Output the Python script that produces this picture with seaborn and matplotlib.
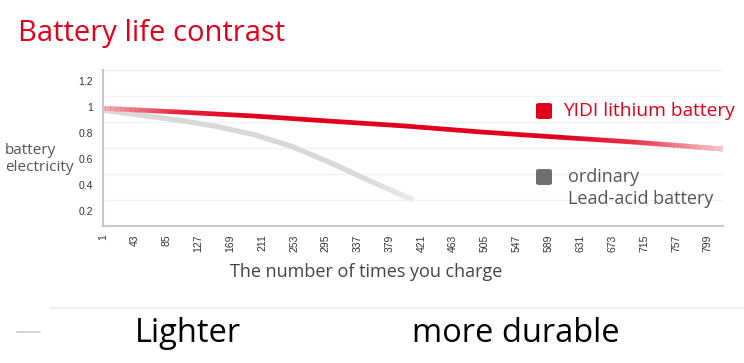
import numpy as np
import pandas as pd
import matplotlib
matplotlib.use("Agg")
import matplotlib.pyplot as plt
import seaborn as sns
from matplotlib.ticker import MultipleLocator, FixedLocator, FuncFormatter
from matplotlib.collections import LineCollection
from matplotlib.patches import FancyBboxPatch

# ---- data ----
lithium_cycles = [1, 100, 200, 300, 400, 500, 600, 700, 819]
lithium_level = [0.99, 0.962, 0.931, 0.892, 0.854, 0.808, 0.769, 0.731, 0.677]
lead_cycles = [1, 50, 100, 150, 200, 250, 300, 350, 410]
lead_level = [0.977, 0.938, 0.90, 0.852, 0.788, 0.697, 0.575, 0.440, 0.285]
x_ticks = list(range(1, 800, 42))
y_ticks = [0.2, 0.4, 0.6, 0.8, 1.0, 1.2]

title = "Battery life contrast"
series_names = ["YIDI lithium battery", "ordinary\nLead-acid battery"]
red = "#e0001b"
grey_line = "#d8d8d8"
grey_box = "#6e6e6e"

df = pd.concat([
    pd.DataFrame({"cycles": lithium_cycles, "level": lithium_level, "series": series_names[0]}),
    pd.DataFrame({"cycles": lead_cycles, "level": lead_level, "series": series_names[1]}),
])

sns.set_theme(style="white")
plt.rcParams["font.family"] = ["Open Sans", "DejaVu Sans"]

fig = plt.figure(figsize=(7.44, 3.63), dpi=100)
ax = fig.add_axes([103 / 744, 1 - 226 / 363, 620 / 744, 156 / 363])

sns.lineplot(data=df[df.series == series_names[1]], x="cycles", y="level",
             color=grey_line, lw=3.8, ax=ax, legend=False, solid_capstyle="butt")
sns.lineplot(data=df[df.series == series_names[0]], x="cycles", y="level",
             color=red, lw=3.4, ax=ax, legend=False, solid_capstyle="butt")


def veil(xs, ys, seg_alpha, lw):
    """Smooth white veil over the drawn straight segments (render effect only)."""
    segs, cols = [], []
    for i in range(len(xs) - 1):
        a0, a1 = seg_alpha[i], seg_alpha[i + 1]
        if a0 == 0 and a1 == 0:
            continue
        t = np.linspace(0, 1, 31)
        sx = xs[i] + (xs[i + 1] - xs[i]) * t
        sy = ys[i] + (ys[i + 1] - ys[i]) * t
        sa = a0 + (a1 - a0) * t
        for k in range(30):
            segs.append([(sx[k], sy[k]), (sx[k + 1], sy[k + 1])])
            cols.append((1, 1, 1, (sa[k] + sa[k + 1]) / 2))
    ax.add_collection(LineCollection(segs, colors=cols, linewidths=lw, capstyle="butt"))


# alpha at each data point (fade in at the start, fade out at the end)
veil(lithium_cycles, lithium_level, [0.7, 0.15, 0, 0, 0, 0, 0, 0.2, 0.8], 3.7)
veil(lead_cycles, lead_level, [0, 0, 0, 0, 0, 0, 0, 0.1, 0.5], 4.1)

ax.set_xlim(1, 819)
ax.set_ylim(0.085, 1.285)
ax.xaxis.set_major_locator(FixedLocator(x_ticks))
ax.yaxis.set_major_locator(FixedLocator(y_ticks))
ax.yaxis.set_major_formatter(FuncFormatter(lambda v, p: "%g" % round(v, 1)))
ax.yaxis.set_minor_locator(MultipleLocator(0.2, offset=0.085))
ax.grid(False)
ax.grid(True, which="minor", axis="y", color="#f2f2f2", lw=1)
ax.tick_params(axis="both", which="both", length=0)
ax.tick_params(axis="y", pad=7, labelsize=7.5, labelcolor="#333333")
ax.tick_params(axis="x", pad=6, labelsize=7.5, labelcolor="#333333", labelrotation=90)
for lab in ax.get_xticklabels() + ax.get_yticklabels():
    lab.set_family(["Liberation Sans", "DejaVu Sans"])
ax.set_xlabel("")
ax.set_ylabel("")
for s in ["top", "right"]:
    ax.spines[s].set_visible(False)
for s in ["left", "bottom"]:
    ax.spines[s].set_color("#c8c8c8")
    ax.spines[s].set_linewidth(1.5)


def px(x, y):
    return x / 744, 1 - y / 363


fig.text(*px(18, 33), title, color=red, fontsize=21, va="center", ha="left")
fig.text(*px(5, 159), "battery\nelectricity", color="#555555", fontsize=11,
         va="center", ha="left", linespacing=1.1)
fig.text(*px(366, 272), "The number of times you charge", color="#444444",
         fontsize=13, va="center", ha="center")

# legend
for (cx, cy), col in [((544, 111), red), ((544, 177), grey_box)]:
    x0, y0 = px(cx - 8, cy + 8)
    fig.patches.append(FancyBboxPatch((x0, y0), 16 / 744, 16 / 363,
                                      boxstyle="round,pad=0,rounding_size=0.005",
                                      transform=fig.transFigure, color=col, lw=0))
fig.text(*px(563, 111), series_names[0], color=red, fontsize=13.8, va="center", ha="left")
fig.text(*px(568, 188), series_names[1], color="#555555", fontsize=13, va="center",
         ha="left", linespacing=1.3)

# bottom banner
fig.add_artist(plt.Line2D([50 / 744, 1], [1 - 308 / 363] * 2, color="#ececec", lw=1.2,
                          transform=fig.transFigure))
fig.add_artist(plt.Line2D([17 / 744, 40 / 744], [1 - 332 / 363] * 2, color="#d0d0d0", lw=1.2,
                          transform=fig.transFigure))
fig.text(*px(135, 333), "Lighter", color="black", fontsize=23.5, va="center", ha="left")
fig.text(*px(412, 333), "more durable", color="black", fontsize=23.5, va="center", ha="left")

fig.savefig("out.png", dpi=100)
